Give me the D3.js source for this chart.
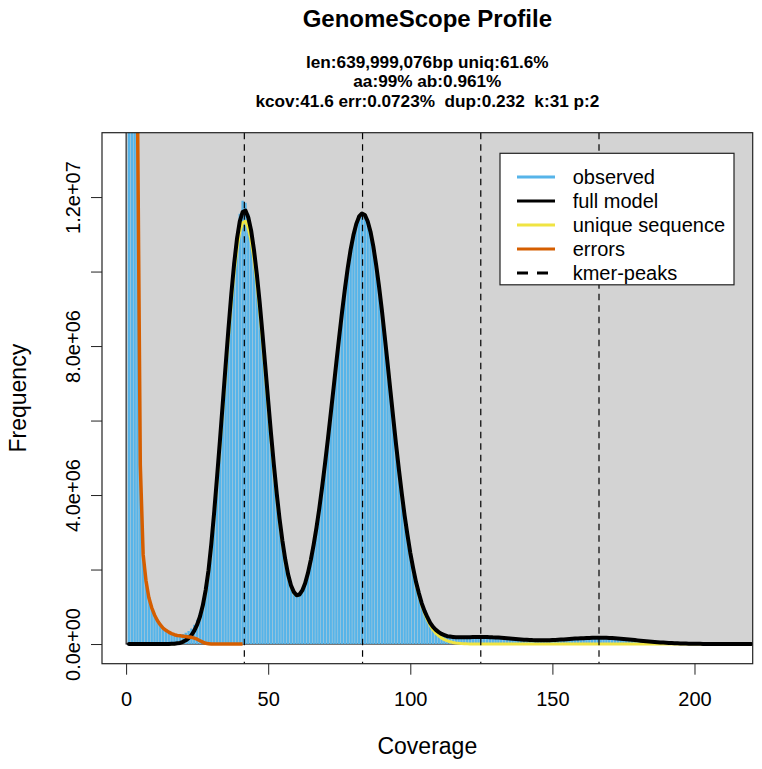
<!DOCTYPE html>
<html>
<head>
<meta charset="utf-8">
<script src="https://cdn.jsdelivr.net/npm/d3@7"></script>
<style>
body { margin: 0; background: #fff; }
text { font-family: "Liberation Sans", Arial, Helvetica, sans-serif; fill: #000; }
</style>
</head>
<body>
<div id="chart"></div>
<script>
// values in millions of k-mers, one per coverage 1..220
var observed = [
150.0,60.0,28.0,14.5,4.8,2.4,1.7,1.25,0.98,0.78,
0.63,0.52,0.43,0.37,0.32,0.29,0.27,0.26,0.25,0.27,
0.30,0.35,0.42,0.52,0.65,0.83,1.09,1.47,1.99,2.70,
3.55,4.48,5.45,6.45,7.46,8.45,9.40,10.25,10.95,11.55,
11.90,11.85,11.55,11.12,10.58,9.93,9.17,8.32,7.43,6.53,
5.64,4.81,4.04,3.36,2.77,2.27,1.87,1.58,1.40,1.31,
1.33,1.44,1.63,1.91,2.26,2.67,3.13,3.65,4.23,4.85,
5.50,6.18,6.87,7.57,8.26,8.92,9.54,10.10,10.59,10.98,
11.28,11.48,11.56,11.52,11.35,11.07,10.67,10.17,9.60,8.96,
8.26,7.54,6.80,6.07,5.35,4.68,4.04,3.45,2.93,2.45,
2.04,1.67,1.37,1.10,0.89,0.72,0.57,0.46,0.38,0.32,
0.27,0.24,0.21,0.20,0.19,0.18,0.18,0.18,0.18,0.18,
0.182,0.186,0.188,0.19,0.19,0.19,0.187,0.184,0.18,0.178,
0.173,0.168,0.162,0.155,0.149,0.142,0.135,0.129,0.123,0.118,
0.113,0.109,0.105,0.103,0.101,0.100,0.100,0.101,0.103,0.106,
0.110,0.114,0.119,0.123,0.129,0.135,0.140,0.146,0.151,0.156,
0.158,0.161,0.164,0.166,0.168,0.170,0.170,0.169,0.167,0.164,
0.160,0.155,0.150,0.144,0.137,0.130,0.122,0.114,0.106,0.098,
0.090,0.082,0.075,0.068,0.061,0.055,0.049,0.043,0.038,0.033,
0.029,0.025,0.021,0.018,0.015,0.013,0.011,0.009,0.007,0.006,
0.005,0.005,0.004,0.004,0.004,0.003,0.003,0.003,0.003,0.003,
0.003,0.003,0.002,0.002,0.002,0.002,0.002,0.002,0.002,0.002
];

var fullModel = [
0,0,0,0,0,0,0,0,0,0,
0,0,0,0,0,0.01,0.01,0.02,0.03,0.06,
0.10,0.16,0.24,0.36,0.52,0.74,1.04,1.45,1.98,2.70,
3.55,4.48,5.45,6.45,7.46,8.45,9.38,10.20,10.87,11.35,
11.60,11.64,11.45,11.10,10.58,9.93,9.17,8.32,7.43,6.53,
5.64,4.81,4.04,3.36,2.77,2.27,1.87,1.58,1.40,1.31,
1.33,1.44,1.63,1.91,2.26,2.67,3.13,3.65,4.23,4.85,
5.50,6.18,6.87,7.57,8.26,8.92,9.54,10.10,10.59,10.98,
11.28,11.48,11.56,11.52,11.35,11.07,10.67,10.17,9.60,8.96,
8.26,7.54,6.80,6.07,5.35,4.68,4.04,3.45,2.93,2.45,
2.04,1.67,1.37,1.10,0.89,0.72,0.57,0.46,0.38,0.32,
0.27,0.24,0.21,0.20,0.19,0.18,0.18,0.18,0.18,0.18,
0.182,0.186,0.188,0.19,0.19,0.19,0.187,0.184,0.18,0.178,
0.173,0.168,0.162,0.155,0.149,0.142,0.135,0.129,0.123,0.118,
0.113,0.109,0.105,0.103,0.101,0.100,0.100,0.101,0.103,0.106,
0.110,0.114,0.119,0.123,0.129,0.135,0.140,0.146,0.151,0.156,
0.158,0.161,0.164,0.166,0.168,0.170,0.170,0.169,0.167,0.164,
0.160,0.155,0.150,0.144,0.137,0.130,0.122,0.114,0.106,0.098,
0.090,0.082,0.075,0.068,0.061,0.055,0.049,0.043,0.038,0.033,
0.029,0.025,0.021,0.018,0.015,0.013,0.011,0.009,0.007,0.006,
0.005,0.005,0.004,0.004,0.004,0.003,0.003,0.003,0.003,0.003,
0.003,0.003,0.002,0.002,0.002,0.002,0.002,0.002,0.002,0.002
];

var uniqueSeq = [
0,0,0,0,0,0,0,0,0,0,
0,0,0,0,0,0.01,0.01,0.02,0.03,0.06,
0.10,0.16,0.23,0.35,0.51,0.72,1.01,1.41,1.93,2.63,
3.46,4.37,5.31,6.29,7.27,8.24,9.15,9.95,10.60,11.07,
11.31,11.35,11.16,10.82,10.32,9.68,8.94,8.11,7.24,6.36,
5.50,4.69,3.94,3.28,2.71,2.22,1.83,1.55,1.38,1.30,
1.32,1.43,1.63,1.91,2.26,2.67,3.13,3.65,4.22,4.84,
5.49,6.17,6.87,7.57,8.26,8.92,9.54,10.10,10.59,10.98,
11.28,11.48,11.56,11.52,11.35,11.07,10.67,10.17,9.60,8.95,
8.25,7.53,6.79,6.06,5.34,4.66,4.02,3.43,2.90,2.42,
2.00,1.63,1.32,1.05,0.83,0.65,0.50,0.38,0.29,0.22,
0.16,0.12,0.085,0.06,0.043,0.03,0.02,0.014,0.01,0.006,
0.004,0.003,0.002,0.001,0,0,0,0,0,0,
0,0,0,0,0,0,0,0,0,0,
0,0,0,0,0,0,0,0,0,0,
0,0,0,0,0,0,0,0,0,0,
0,0,0,0,0,0,0,0,0,0,
0,0,0,0,0,0,0,0,0,0,
0,0,0,0,0,0,0,0,0,0,
0,0,0,0,0,0,0,0,0,0,
0,0,0,0,0,0,0,0,0,0,
0,0,0,0,0,0,0,0,0,0
];

// error k-mers, coverage 1..41
var errors = [
150.0,60.0,28.0,14.5,4.8,2.4,1.7,1.25,0.98,0.78,
0.63,0.52,0.43,0.37,0.32,0.28,0.25,0.23,0.22,0.21,
0.20,0.19,0.18,0.16,0.13,0.09,0.05,0.02,0.01,0,
0,0,0,0,0,0,0,0,0,0,0
];

var kmerPeaks = [41.6, 83.2, 124.8, 166.4];

var xTicks = [0, 50, 100, 150, 200];
var yTicks = [0, 2, 4, 6, 8, 10, 12];
var yTickLabels = ["0.0e+00", "", "4.0e+06", "", "8.0e+06", "", "1.2e+07"];

var titleText = "GenomeScope Profile";
var subtitleLines = ["len:639,999,076bp uniq:61.6%",
                     "aa:99% ab:0.961%",
                     "kcov:41.6 err:0.0723%  dup:0.232  k:31 p:2"];

var legendLabels = ["observed", "full model", "unique sequence", "errors", "kmer-peaks"];
var legendColors = ["#56B4E9", "#000000", "#F0E442", "#D55E00", "#000000"];
var legendDash = [null, null, null, null, "11,9"];

var coverage = d3.range(1, observed.length + 1);

// plot region (R style usr with 4% padding)
var plot = {left: 102, right: 752.7, top: 132.7, bottom: 663.7};
var xLimit = 212, yLimit = 13.2;

var svg = d3.select("#chart")
    .append("svg")
    .attr("width", 762)
    .attr("height", 769);

var x = d3.scaleLinear()
    .domain([-0.04 * xLimit, 1.04 * xLimit])
    .range([plot.left, plot.right]);
var y = d3.scaleLinear()
    .domain([-0.04 * yLimit, 1.04 * yLimit])
    .range([plot.bottom, plot.top]);

svg.append("defs").append("clipPath")
    .attr("id", "plotClip")
    .append("rect")
    .attr("x", plot.left)
    .attr("y", plot.top)
    .attr("width", plot.right - plot.left)
    .attr("height", plot.bottom - plot.top);

var g = svg.append("g").attr("clip-path", "url(#plotClip)");

// grey background from (0,0)
g.append("rect")
    .attr("x", x(0))
    .attr("y", y(yLimit * 1.1))
    .attr("width", x(xLimit * 1.1) - x(0))
    .attr("height", y(0) - y(yLimit * 1.1))
    .attr("fill", "#D3D3D3")
    .attr("stroke", "#000")
    .attr("stroke-width", 1);

// observed histogram as vertical lines
g.selectAll(".bar")
    .data(coverage)
    .enter()
    .append("line")
    .attr("class", "bar")
    .attr("x1", function(c) { return x(c); })
    .attr("x2", function(c) { return x(c); })
    .attr("y1", y(0))
    .attr("y2", function(c, i) { return y(observed[i]); })
    .attr("stroke", "#56B4E9")
    .attr("stroke-width", 2.4);

var line = d3.line()
    .x(function(d, i) { return x(coverage[i]); })
    .y(function(d) { return y(d); });

g.append("path").datum(uniqueSeq)
    .attr("d", line)
    .attr("fill", "none")
    .attr("stroke", "#F0E442")
    .attr("stroke-width", 3)
    .attr("stroke-linejoin", "round");

g.append("path").datum(fullModel)
    .attr("d", line)
    .attr("fill", "none")
    .attr("stroke", "#000")
    .attr("stroke-width", 4)
    .attr("stroke-linejoin", "round")
    .attr("stroke-linecap", "round");

g.append("path").datum(errors)
    .attr("d", line)
    .attr("fill", "none")
    .attr("stroke", "#D55E00")
    .attr("stroke-width", 3.5)
    .attr("stroke-linejoin", "round");

// kmer peaks
g.selectAll(".peak")
    .data(kmerPeaks)
    .enter()
    .append("line")
    .attr("x1", function(d) { return x(d); })
    .attr("x2", function(d) { return x(d); })
    .attr("y1", plot.top)
    .attr("y2", plot.bottom)
    .attr("stroke", "#000")
    .attr("stroke-width", 1.2)
    .attr("stroke-dasharray", "6.5,5");

// frame
svg.append("rect")
    .attr("x", plot.left)
    .attr("y", plot.top)
    .attr("width", plot.right - plot.left)
    .attr("height", plot.bottom - plot.top)
    .attr("fill", "none")
    .attr("stroke", "#222")
    .attr("stroke-width", 1.2);

// axes
var xAxis = svg.append("g")
    .attr("transform", "translate(0," + plot.bottom + ")")
    .call(d3.axisBottom(x).tickValues(xTicks).tickSize(11).tickFormat(d3.format("d")));
xAxis.select(".domain").remove();
xAxis.selectAll("line").attr("stroke", "#222");
xAxis.selectAll("text")
    .attr("y", 42.5)
    .attr("dy", null)
    .attr("font-size", 20)
    .attr("font-family", "Liberation Sans, Arial, sans-serif");

var yAxis = svg.append("g")
    .attr("transform", "translate(" + plot.left + ",0)")
    .call(d3.axisLeft(y).tickValues(yTicks).tickSize(11)
        .tickFormat(function(d, i) { return yTickLabels[i]; }));
yAxis.select(".domain").remove();
yAxis.selectAll("line").attr("stroke", "#222");
yAxis.selectAll("text")
    .attr("x", null)
    .attr("dy", null)
    .attr("text-anchor", "middle")
    .attr("transform", "translate(-22,0) rotate(-90)")
    .attr("font-size", 20)
    .attr("font-family", "Liberation Sans, Arial, sans-serif");

// axis titles
svg.append("text")
    .attr("x", (plot.left + plot.right) / 2)
    .attr("y", 754)
    .attr("text-anchor", "middle")
    .style("font-size", "23px")
    .text("Coverage");

svg.append("text")
    .attr("transform", "translate(26," + (plot.top + plot.bottom) / 2 + ") rotate(-90)")
    .attr("text-anchor", "middle")
    .style("font-size", "23px")
    .text("Frequency");

// titles
svg.append("text")
    .attr("x", (plot.left + plot.right) / 2)
    .attr("y", 27)
    .attr("text-anchor", "middle")
    .style("font-size", "24px")
    .style("font-weight", "bold")
    .text(titleText);

svg.selectAll(".sub")
    .data(subtitleLines)
    .enter()
    .append("text")
    .attr("x", (plot.left + plot.right) / 2)
    .attr("y", function(d, i) { return 68 + i * 19.3; })
    .attr("text-anchor", "middle")
    .style("font-size", "17.2px")
    .style("font-weight", "bold")
    .style("white-space", "pre")
    .text(function(d) { return d; });

// legend
var legend = svg.append("g");
legend.append("rect")
    .attr("x", 500)
    .attr("y", 153.3)
    .attr("width", 234)
    .attr("height", 131.5)
    .attr("fill", "#fff")
    .attr("stroke", "#222")
    .attr("stroke-width", 1.2);

var items = legend.selectAll(".item")
    .data(legendLabels)
    .enter()
    .append("g")
    .attr("transform", function(d, i) { return "translate(0," + (177 + i * 24) + ")"; });

items.append("line")
    .attr("x1", 517)
    .attr("x2", 555)
    .attr("stroke", function(d, i) { return legendColors[i]; })
    .attr("stroke-width", 3)
    .attr("stroke-dasharray", function(d, i) { return legendDash[i]; });

items.append("text")
    .attr("x", 572.7)
    .attr("y", 7)
    .style("font-size", "20px")
    .text(function(d) { return d; });
</script>
</body>
</html>
